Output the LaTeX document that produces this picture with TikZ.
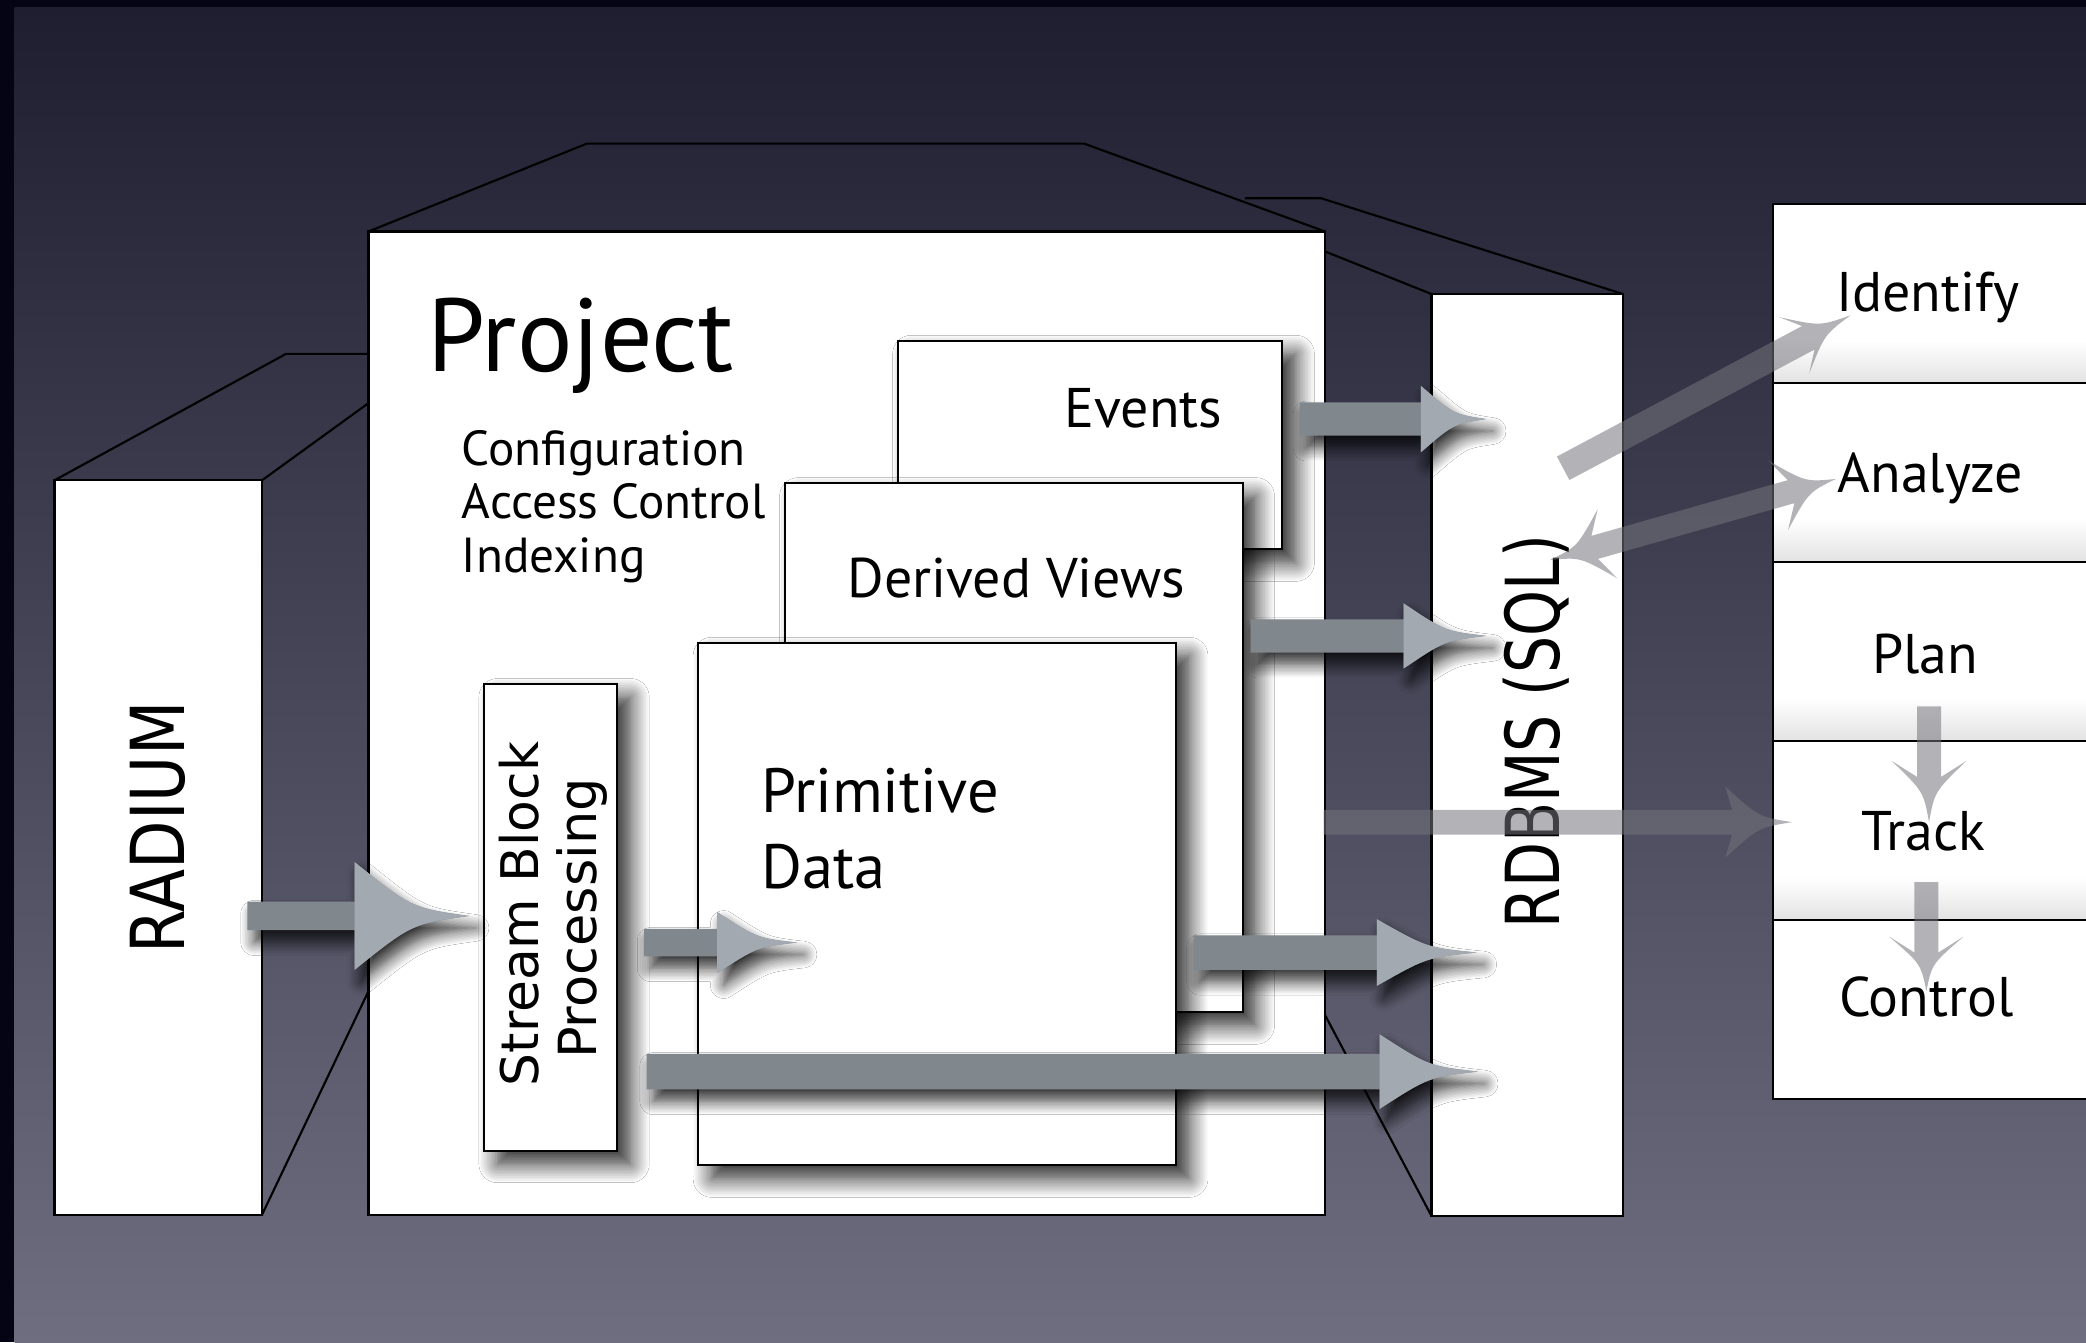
\documentclass[tikz,border=0pt]{standalone}
\usepackage{fontspec}
\setmainfont{PT Sans}
\newfontfamily\blockfont{DejaVu Sans}
\newfontfamily\radiumfont[FakeStretch=0.845]{DejaVu Sans}
\newfontfamily\dbfont[FakeStretch=0.785]{DejaVu Sans}
\usetikzlibrary{shadows.blur}

\definecolor{bgtop}{RGB}{30,30,48}
\definecolor{bgmid}{RGB}{70,70,94}
\definecolor{bgbot}{RGB}{110,110,128}
\definecolor{frameblack}{RGB}{4,4,20}
\definecolor{shaftgray}{RGB}{128,135,141}
\definecolor{headgray}{RGB}{162,169,176}
\definecolor{glassgray}{RGB}{116,116,124}

% row fill: white with a soft grey band along the bottom edge
\pgfdeclareverticalshading{rowshade}{100bp}{color(0bp)=(black!11); color(25bp)=(black!11); color(37bp)=(white); color(75bp)=(white); color(100bp)=(white)}

% direction and length between two named points
\newdimen\arrdx
\newdimen\arrdy
\newcommand\arrgeom[2]{%
  \pgfextractx{\arrdx}{\pgfpointdiff{\pgfpointanchor{#1}{center}}{\pgfpointanchor{#2}{center}}}%
  \pgfextracty{\arrdy}{\pgfpointdiff{\pgfpointanchor{#1}{center}}{\pgfpointanchor{#2}{center}}}%
  \pgfmathsetmacro\arrang{atan2(\arrdy,\arrdx)}%
  \pgfmathsetmacro\arrlen{veclen(\arrdx,\arrdy)}%
}

% opaque block arrow: flat-backed head with hollow flanks
% #1 from, #2 to, #3 shaft half width, #4 head length, #5 head half width
\newcommand\solidarrow[5]{%
  \arrgeom{#1}{#2}%
  \pgfmathsetmacro\hb{\arrlen-#4}%
  \pgfmathsetmacro\hc{\arrlen-0.5*#4}%
  \pgfmathsetmacro\hq{0.15*#5}%
  \begin{scope}[shift={(#1)},rotate=\arrang]
    \fill[shaftgray, arrowshadow] (0pt,-#3pt) -- (\hb pt,-#3pt) -- (\hb pt,-#5pt)
      .. controls (\hc pt,-\hq pt) .. (\arrlen pt,0pt)
      .. controls (\hc pt,\hq pt) .. (\hb pt,#5pt) -- (\hb pt,#3pt) -- (0pt,#3pt) -- cycle;
    \fill[headgray] (\hb pt,-#5pt) .. controls (\hc pt,-\hq pt) .. (\arrlen pt,0pt)
      .. controls (\hc pt,\hq pt) .. (\hb pt,#5pt) -- cycle;
  \end{scope}}

% see-through arrow with swept-back barbs
% #1 from, #2 to, #3 shaft half width, #4 head length, #5 head half width, #6 sweep
\newcommand\glassarrow[6]{%
  \arrgeom{#1}{#2}%
  \pgfmathsetmacro\hb{\arrlen-#4}%
  \pgfmathsetmacro\hn{\arrlen-#4+#6}%
  \pgfmathsetmacro\hc{\arrlen-0.5*#4}%
  \pgfmathsetmacro\hq{0.15*#5}%
  \begin{scope}[shift={(#1)},rotate=\arrang]
    \fill[glassfill] (0pt,-#3pt) -- (\hn pt,-#3pt) -- (\hb pt,-#5pt)
      .. controls (\hc pt,-\hq pt) .. (\arrlen pt,0pt)
      .. controls (\hc pt,\hq pt) .. (\hb pt,#5pt) -- (\hn pt,#3pt) -- (0pt,#3pt) -- cycle;
  \end{scope}}

% the same with a head at both ends
\newcommand\glassdouble[6]{%
  \arrgeom{#1}{#2}%
  \pgfmathsetmacro\hb{\arrlen-#4}%
  \pgfmathsetmacro\hn{\arrlen-#4+#6}%
  \pgfmathsetmacro\hc{\arrlen-0.5*#4}%
  \pgfmathsetmacro\tb{#4}%
  \pgfmathsetmacro\tn{#4-#6}%
  \pgfmathsetmacro\tc{0.5*#4}%
  \pgfmathsetmacro\hq{0.15*#5}%
  \begin{scope}[shift={(#1)},rotate=\arrang]
    \fill[glassfill] (0pt,0pt) .. controls (\tc pt,-\hq pt) .. (\tb pt,-#5pt)
      -- (\tn pt,-#3pt) -- (\hn pt,-#3pt) -- (\hb pt,-#5pt)
      .. controls (\hc pt,-\hq pt) .. (\arrlen pt,0pt)
      .. controls (\hc pt,\hq pt) .. (\hb pt,#5pt) -- (\hn pt,#3pt) -- (\tn pt,#3pt)
      -- (\tb pt,#5pt) .. controls (\tc pt,\hq pt) .. (0pt,0pt) -- cycle;
  \end{scope}}

\begin{document}
\begin{tikzpicture}[x=1pt,y=-1pt,
  wireline/.style={draw=black, line width=1.6pt, line join=miter},
  whiteface/.style={fill=white, draw=black, line width=1.6pt, inner sep=0pt, outer sep=0pt, anchor=north west},
  paperbox/.style={fill=white, draw=black, line width=1.5pt, inner sep=0pt, outer sep=0pt, anchor=north west,
    blur shadow={shadow xshift=10pt, shadow yshift=-10pt, shadow blur radius=14pt, shadow blur steps=12, shadow opacity=85}},
  rowbox/.style={draw=black, line width=1.5pt, inner sep=0pt, outer sep=0pt, anchor=north west,
    minimum width=300pt, minimum height=134.6pt},
  arrowshadow/.style={blur shadow={shadow xshift=5pt, shadow yshift=-9pt, shadow blur radius=10pt, shadow blur steps=10, shadow opacity=80}},
  glassfill/.style={fill=glassgray, fill opacity=0.55},
  titletext/.style={font=\fontsize{78}{84}\selectfont, inner sep=0pt, anchor=base west},
  notetext/.style={font=\fontsize{37}{40}\selectfont, inner sep=0pt, anchor=base west},
  midtext/.style={font=\fontsize{42}{46}\selectfont, inner sep=0pt},
  datatext/.style={font=\fontsize{47}{52}\selectfont, inner sep=0pt, anchor=base west},
  uptext/.style={rotate=90, inner sep=0pt, anchor=base}]

\useasboundingbox (0,0) rectangle (1568,1009);
\clip (0,0) rectangle (1568,1009);

% slide backdrop
\fill[frameblack] (0,0) rectangle (1568,1009);
\shade[top color=bgtop, middle color=bgmid, bottom color=bgbot] (11,6) rectangle (1568,1009);

% front faces of the three solids
\node[whiteface, minimum width=156pt, minimum height=552pt] (radium) at (41,361) {};
\node[whiteface, minimum width=719pt, minimum height=739pt] (project) at (277,174) {};
\node[whiteface, minimum width=144pt, minimum height=693pt] (rdbms) at (1076,221) {};

% receding edges
\coordinate (radTopBack) at (215,266);
\coordinate (radTopJoin) at (277,266);
\coordinate (radSideTop) at (277,303);
\coordinate (radSideBot) at (277,745);
\coordinate (projBackL) at (441,108);
\coordinate (projBackR) at (815,108);
\coordinate (dbBackL) at (936,149);
\coordinate (dbBackR) at (993,149);
\coordinate (dbSideTop) at (996,189);
\coordinate (dbSideBot) at (996,763);
\draw[wireline] (radium.north west) -- (radTopBack) -- (radTopJoin);
\draw[wireline] (radium.north east) -- (radSideTop);
\draw[wireline] (radium.south east) -- (radSideBot);
\draw[wireline] (project.north west) -- (projBackL) -- (projBackR) -- (project.north east);
\draw[wireline] (dbBackL) -- (dbBackR) -- (rdbms.north east);
\draw[wireline] (dbSideTop) -- (rdbms.north west);
\draw[wireline] (dbSideBot) -- (rdbms.south west);

% stacked data layers inside the project
\node[paperbox, minimum width=289pt, minimum height=157pt] (events) at (675,256) {};
\node[paperbox, minimum width=344pt, minimum height=398pt] (derived) at (590,363) {};
\node[paperbox, minimum width=359pt, minimum height=393pt] (primitive) at (525,483) {};
\node[paperbox, minimum width=100pt, minimum height=351pt] (stream) at (364,514) {};

% labels
\node[titletext] (projTitle) at (321,279) {Project};
\node[notetext] (cfgA) at (347,350) {Configuration};
\node[notetext] (cfgB) at (347,390) {Access Control};
\node[notetext] (cfgC) at (347,430) {Indexing};
\node[midtext, anchor=base east] (eventsText) at (919,321) {Events};
\node[midtext, anchor=base] (derivedText) at (764,449) {Derived Views};
\node[datatext] (primA) at (572,611) {Primitive};
\node[datatext] (primB) at (572,668) {Data};
\node[uptext, font=\radiumfont\fontsize{56}{60}\selectfont] (radiumText) at (139,622) {RADIUM};
\node[uptext, font=\dbfont\fontsize{56}{60}\selectfont] (rdbmsText) at (1172,550) {RDBMS (SQL)};
\node[uptext, font=\blockfont\fontsize{39}{44}\selectfont] (streamA) at (405,687) {Stream Block};
\node[uptext, font=\blockfont\fontsize{39.5}{44}\selectfont] (streamB) at (448.5,690.5) {Processing};

% data flow arrows
\coordinate (inS) at (186,688.5);   \coordinate (inE) at (352.5,688.5);
\coordinate (spS) at (484,708.5);   \coordinate (spE) at (599,708.5);
\coordinate (lgS) at (486,805.5);   \coordinate (lgE) at (1111,805.5);
\coordinate (pdS) at (897,716);     \coordinate (pdE) at (1110,716);
\coordinate (dvS) at (940,478);     \coordinate (dvE) at (1117,478);
\coordinate (evS) at (977,315);     \coordinate (evE) at (1117,315);
\solidarrow{inS}{inE}{10.7}{86}{40.5}
\solidarrow{spS}{spE}{10.3}{60}{23}
\solidarrow{lgS}{lgE}{13.3}{74}{28}
\solidarrow{pdS}{pdE}{13}{75}{25}
\solidarrow{dvS}{dvE}{12.5}{62}{24.5}
\solidarrow{evS}{evE}{12.5}{49}{25}

% activity column
\node[rowbox, shade, shading=rowshade] (identify) at (1333,153) {};
\node[rowbox, shade, shading=rowshade] (analyze) at (1333,287.6) {};
\node[rowbox, shade, shading=rowshade] (plan) at (1333,422.2) {};
\node[rowbox, shade, shading=rowshade] (track) at (1333,556.8) {};
\node[rowbox, fill=white] (control) at (1333,691.4) {};
\node[midtext, anchor=base] (identifyText) at (1449,234) {Identify};
\node[midtext, anchor=base] (analyzeText) at (1451,370) {Analyze};
\node[midtext, anchor=base] (planText) at (1447,506) {Plan};
\node[midtext, anchor=base] (trackText) at (1446,639) {Track};
\node[midtext, anchor=base] (controlText) at (1448,764) {Control};

% see-through arrows
\coordinate (trS) at (995,618);     \coordinate (trE) at (1347,618);
\coordinate (ptS) at (1450,531);    \coordinate (ptE) at (1450,618);
\coordinate (tcS) at (1448,663);    \coordinate (tcE) at (1448,745);
\coordinate (idS) at (1175,352);    \coordinate (idE) at (1391,237);
\coordinate (anS) at (1165,421);    \coordinate (anE) at (1380,360);
\glassarrow{trS}{trE}{9.3}{50}{26.5}{5}
\glassarrow{ptS}{ptE}{9}{46}{28}{12}
\glassarrow{tcS}{tcE}{9}{41}{28}{12}
\glassarrow{idS}{idE}{10}{48}{24}{12}
\glassdouble{anS}{anE}{9}{45}{27}{10}

\end{tikzpicture}
\end{document}
